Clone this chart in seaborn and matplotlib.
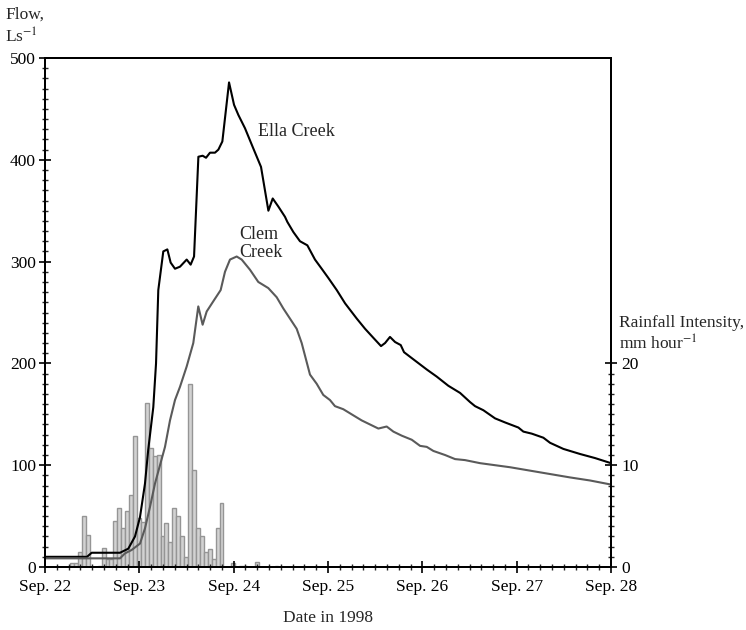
import numpy as np
import pandas as pd
import matplotlib
matplotlib.use("Agg")
import matplotlib.pyplot as plt
from matplotlib.ticker import MultipleLocator, FixedLocator
import seaborn as sns

# ---------------- data ----------------
# time in days since Sep. 22 00:00
ella_day = [0.000, 0.445, 0.495, 0.795, 0.883, 0.954, 1.007, 1.060, 1.094, 1.148,
            1.177, 1.201, 1.254, 1.297, 1.332, 1.378, 1.431, 1.502, 1.544, 1.580,
            1.626, 1.671, 1.707, 1.749, 1.802, 1.838, 1.880, 1.951, 2.004, 2.050,
            2.120, 2.209, 2.290, 2.368, 2.414, 2.474, 2.544, 2.569, 2.633, 2.703,
            2.781, 2.862, 2.933, 3.003, 3.093, 3.181, 3.305, 3.393, 3.482, 3.562,
            3.605, 3.657, 3.711, 3.771, 3.806, 3.905, 4.047, 4.153, 4.276, 4.400,
            4.506, 4.559, 4.647, 4.771, 4.877, 5.018, 5.071, 5.160, 5.283, 5.354,
            5.495, 5.672, 5.831, 6.000]
ella_flow = [10, 10, 14, 14, 18, 30, 49, 82, 115, 157,
             200, 272, 310, 312, 299, 293, 295, 302, 297, 305,
             403, 404, 402, 407, 407, 410, 418, 476, 454, 444,
             431, 411, 393, 350, 362, 354, 344, 339, 329, 320,
             316, 302, 293, 284, 272, 259, 244, 234, 225, 217,
             220, 226, 221, 218, 211, 204, 194, 187, 178, 171,
             162, 158, 154, 146, 142, 137, 133, 131, 127, 122,
             116, 111, 107, 102]

clem_day = [0.000, 0.795, 0.848, 0.918, 1.007, 1.060, 1.113, 1.166, 1.219, 1.272,
            1.325, 1.378, 1.431, 1.502, 1.572, 1.625, 1.671, 1.714, 1.784, 1.862,
            1.908, 1.961, 2.032, 2.085, 2.173, 2.261, 2.367, 2.456, 2.526, 2.597,
            2.668, 2.721, 2.809, 2.880, 2.950, 3.021, 3.074, 3.162, 3.268, 3.357,
            3.534, 3.622, 3.693, 3.782, 3.888, 3.976, 4.047, 4.117, 4.241, 4.347,
            4.453, 4.612, 4.930, 5.247, 5.565, 5.777, 6.000]
clem_flow = [8.5, 8.5, 13.4, 16.7, 23, 38, 59, 82, 100, 118,
             144, 164, 177, 197, 220, 256, 238, 251, 261, 272,
             290, 302, 305, 302, 292, 280, 274, 265, 254, 244,
             234, 220, 189, 180, 169, 164, 158, 155, 149, 144,
             136, 138, 133, 129, 125, 119, 118, 114, 110, 106,
             105, 102, 98, 93, 88, 85, 81]

# hourly rainfall intensity (mm/hour), first bar starts at hour 6.4 of Sep. 22
rain_start_hour = 6.4
rain = [0.35, 0.35, 1.5, 5.05, 3.1, 0, 0, 0.1, 1.9, 0.8,
        0.8, 4.5, 5.8, 3.8, 5.5, 7.1, 12.9, 4.8, 4.4, 16.1,
        11.7, 10.9, 11.0, 3.0, 4.3, 2.5, 5.8, 5.0, 3.0, 1.0,
        18.0, 9.5, 3.8, 3.0, 1.5, 1.8, 0.8, 3.8, 6.3, 0,
        0, 0.35, 0, 0.1, 0.1, 0, 0, 0.5, 0, 0,
        0, 0, 0.1]

date_labels = ["Sep. 22", "Sep. 23", "Sep. 24", "Sep. 25", "Sep. 26", "Sep. 27", "Sep. 28"]

# ---------------- style ----------------
sns.set_style("ticks")
plt.rcParams["font.family"] = ["Liberation Serif", "DejaVu Serif"]
plt.rcParams["mathtext.fontset"] = "stix"
FS = 12.5

fig = plt.figure(figsize=(7.46, 6.30), dpi=100)
ax = fig.add_axes([45 / 746, 1 - 567 / 630, (611 - 45) / 746, (567 - 58) / 630])
ax2 = ax.twinx()

# rainfall bars on the right axis
n = len(rain)
hours = rain_start_hour + np.arange(n) + 0.5
rain_df = pd.DataFrame({"day": hours / 24.0, "rain": rain})
sns.histplot(data=rain_df, x="day", weights="rain", binwidth=1 / 24.0,
             binrange=(rain_start_hour / 24.0, (rain_start_hour + n) / 24.0), ax=ax2,
             color="#d2d2d2", edgecolor="#959595", linewidth=1.0, alpha=1.0)

# streamflow lines
ella_df = pd.DataFrame({"day": ella_day, "flow": ella_flow})
clem_df = pd.DataFrame({"day": clem_day, "flow": clem_flow})
sns.lineplot(data=ella_df, x="day", y="flow", ax=ax, color="black", lw=1.5,
             estimator=None, sort=False)
sns.lineplot(data=clem_df, x="day", y="flow", ax=ax, color="#5a5a5a", lw=1.5,
             estimator=None, sort=False)

ax.set_zorder(ax2.get_zorder() + 1)
ax.patch.set_visible(False)

# axes limits / ticks
ax.set_xlim(0, 6)
ax.set_ylim(0, 500)
ax2.set_ylim(0, 50)
ax.xaxis.set_major_locator(FixedLocator(range(7)))
ax.set_xticklabels(date_labels)
ax.xaxis.set_minor_locator(MultipleLocator(1 / 8))
ax.yaxis.set_major_locator(MultipleLocator(100))
ax.yaxis.set_minor_locator(MultipleLocator(10))
ax2.yaxis.set_major_locator(FixedLocator([0, 10, 20]))
ax2.yaxis.set_minor_locator(FixedLocator(list(range(0, 21))))

for a in (ax, ax2):
    a.tick_params(which="major", direction="inout", length=9, width=1.2,
                  labelsize=FS, colors="black")
    a.tick_params(which="minor", direction="inout", length=5, width=1.0)
    for s in a.spines.values():
        s.set_linewidth(1.4)
        s.set_color("black")
ax.tick_params(axis="y", pad=2)
ax2.tick_params(axis="y", pad=3)
ax.tick_params(axis="x", pad=4)

ax.set_ylabel("")
ax2.set_ylabel("")
ax.set_xlabel("Date in 1998", fontsize=FS, labelpad=11)

# annotations
ax.text(2.258, 428, "Ella Creek", fontsize=FS + 0.5, ha="left", va="center")
ax.text(2.057, 318, "Clem\nCreek", fontsize=FS + 0.5, ha="left", va="center",
        linespacing=1.1)

fig.text(5 / 746, 1 - 7 / 630, "Flow,\nLs$^{-1}$", fontsize=FS, ha="left", va="top",
         linespacing=1.3)
fig.text(619 / 746, 1 - 315 / 630, "Rainfall Intensity,\nmm hour$^{-1}$", fontsize=FS,
         ha="left", va="top", linespacing=1.25)

fig.savefig("out.png", dpi=100)
